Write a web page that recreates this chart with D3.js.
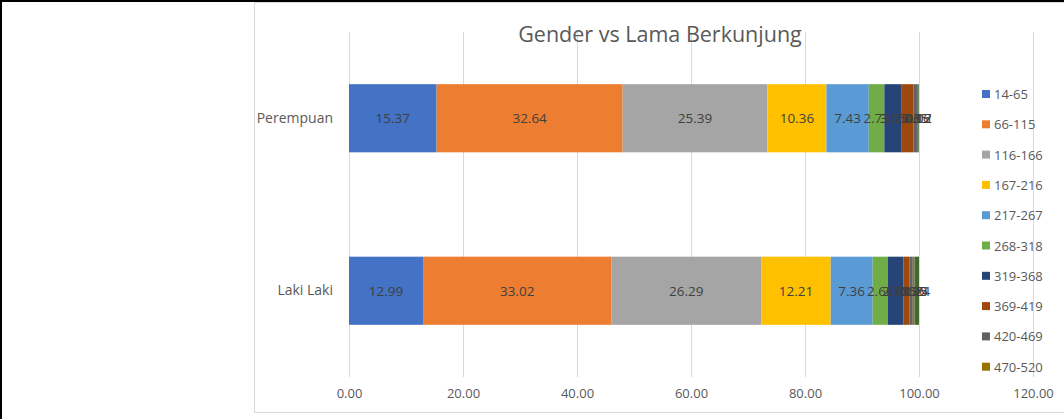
<!DOCTYPE html>
<html>
<head>
<meta charset="utf-8">
<script src="https://cdn.jsdelivr.net/npm/d3@7"></script>
<style>
  body { margin: 0; background: #fff; }
  svg { display: block; }
  .axis path, .axis line { display: none; }
</style>
</head>
<body>
<div id="chart"></div>
<script>
const width = 1064
const height = 419

// categories and series
const categories = ['Perempuan', 'Laki Laki']
const seriesNames = ['14-65', '66-115', '116-166', '167-216', '217-267', '268-318',
  '319-368', '369-419', '420-469', '470-520', '521-571', '572-622']
const perempuan = [15.37, 32.64, 25.39, 10.36, 7.43, 2.73, 3.05, 2.03, 0.65, 0.16, 0.07, 0.12]
const lakiLaki = [12.99, 33.02, 26.29, 12.21, 7.36, 2.66, 2.71, 1.12, 0.55, 0.30, 0.05, 0.74]
const xTicks = [0, 20, 40, 60, 80, 100, 120]
const legendCount = 10 // legend is cut off after the tenth entry

const colors = ['#4472C4', '#ED7D31', '#A5A5A5', '#FFC000', '#5B9BD5', '#70AD47',
  '#264478', '#9E480E', '#636363', '#997300', '#255E91', '#43682B']

const values = { 'Perempuan': perempuan, 'Laki Laki': lakiLaki }
const rows = categories.map(c => {
  const row = { cat: c }
  seriesNames.forEach((s, i) => { row[s] = values[c][i] })
  return row
})
const stacked = d3.stack().keys(seriesNames)(rows)

const font = "'Open Sans', 'Noto Sans', sans-serif"
const plotTop = 32
const plotBottom = 377

const svg = d3.select('#chart').append('svg')
  .attr('width', width)
  .attr('height', height)

// page edges
svg.append('rect').attr('x', 0).attr('y', 0).attr('width', width).attr('height', 2).attr('fill', '#000')
svg.append('rect').attr('x', 0).attr('y', 0).attr('width', 2).attr('height', height).attr('fill', '#000')

// chart frame
svg.append('rect')
  .attr('x', 254.5).attr('y', 2.5)
  .attr('width', width).attr('height', 410)
  .attr('fill', '#fff')
  .attr('stroke', '#d9d9d9')

const x = d3.scaleLinear().domain([0, 120]).range([349, 1033])
const y = d3.scaleBand().domain(categories).range([plotTop, plotBottom]).paddingInner(0.605).paddingOuter(0.3025)

// gridlines
svg.append('g')
  .selectAll('line')
  .data(xTicks)
  .enter()
  .append('line')
  .attr('x1', d => Math.round(x(d)) + 0.5)
  .attr('x2', d => Math.round(x(d)) + 0.5)
  .attr('y1', plotTop)
  .attr('y2', plotBottom)
  .style('stroke', '#d9d9d9')

// bars
const layer = svg.append('g')
  .selectAll('g')
  .data(stacked)
  .enter()
  .append('g')
  .attr('fill', (d, i) => colors[i])

layer.selectAll('rect')
  .data(d => d)
  .enter()
  .append('rect')
  .attr('x', d => x(d[0]))
  .attr('y', d => y(d.data.cat))
  .attr('width', d => x(d[1]) - x(d[0]))
  .attr('height', y.bandwidth())

// data labels (Excel draws them all, overlapping on the thin segments)
const labels = svg.append('g')
stacked.forEach(s => {
  s.forEach(d => {
    labels.append('text')
      .attr('x', (x(d[0]) + x(d[1])) / 2)
      .attr('y', y(d.data.cat) + y.bandwidth() / 2)
      .attr('text-anchor', 'middle')
      .attr('dominant-baseline', 'central')
      .style('font-family', font)
      .style('font-size', '13.5px')
      .style('fill', '#404040')
      .text(d3.format('.2f')(d[1] - d[0]))
  })
})

// x axis
svg.append('g')
  .attr('class', 'axis')
  .attr('transform', 'translate(0,' + plotBottom + ')')
  .call(d3.axisBottom(x).tickValues(xTicks).tickSize(0).tickPadding(12).tickFormat(d3.format('.2f')))
  .selectAll('text')
  .style('font-family', font)
  .style('font-size', '13px')
  .style('fill', '#595959')

// category axis
svg.append('g')
  .attr('class', 'axis')
  .attr('transform', 'translate(349,0)')
  .call(d3.axisLeft(y).tickSize(0).tickPadding(16))
  .selectAll('text')
  .style('font-family', font)
  .style('font-size', '14px')
  .style('fill', '#595959')

// title
svg.append('text')
  .attr('x', 660)
  .attr('y', 42)
  .attr('text-anchor', 'middle')
  .style('font-family', font)
  .style('font-size', '21.5px')
  .style('fill', '#595959')
  .text('Gender vs Lama Berkunjung')

// legend
const legend = svg.append('g')
  .selectAll('g')
  .data(seriesNames.slice(0, legendCount))
  .enter()
  .append('g')
  .attr('transform', (d, i) => 'translate(982,' + (94 + i * 30.3) + ')')

legend.append('rect')
  .attr('x', 0).attr('y', -4)
  .attr('width', 8).attr('height', 8)
  .attr('fill', (d, i) => colors[i])

legend.append('text')
  .attr('x', 12)
  .attr('y', 0)
  .attr('dominant-baseline', 'central')
  .style('font-family', font)
  .style('font-size', '13px')
  .style('fill', '#595959')
  .text(d => d)
</script>
</body>
</html>
